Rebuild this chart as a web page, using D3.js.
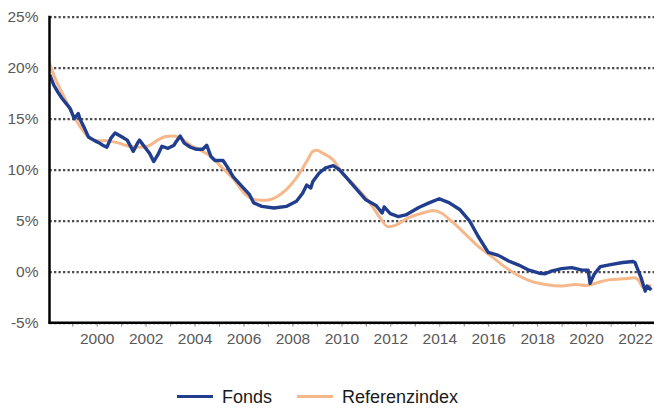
<!DOCTYPE html>
<html>
<head>
<meta charset="utf-8">
<script src="https://cdn.jsdelivr.net/npm/d3@7"></script>
<style>
  html, body { margin: 0; padding: 0; background: #fff; }
  svg text { font-family: "Liberation Sans", Arial, sans-serif; }
</style>
</head>
<body>
<div id="chart"></div>
<script>
// Fonds (navy), month resolution
const fondsDates = [
  "1998-02","1998-04","1998-06","1998-08","1998-10","1998-12",
  "1999-02","1999-04","1999-05","1999-07","1999-09","1999-12",
  "2000-02","2000-04","2000-06","2000-08","2000-10",
  "2001-01","2001-04","2001-07","2001-09","2001-10",
  "2002-01","2002-03","2002-05","2002-07","2002-09","2002-12",
  "2003-03","2003-04","2003-06","2003-08","2003-11",
  "2004-02","2004-05","2004-07","2004-09","2004-11",
  "2005-03","2005-05","2005-08",
  "2006-01","2006-04","2006-06","2006-10",
  "2007-04","2007-10",
  "2008-03","2008-06","2008-08","2008-10","2008-11",
  "2009-02","2009-05","2009-09","2009-12",
  "2010-03","2010-08",
  "2011-01","2011-06","2011-09","2011-10",
  "2012-01","2012-05","2012-09",
  "2013-03","2013-08",
  "2014-01","2014-06","2014-11",
  "2015-04","2015-08",
  "2016-01","2016-06","2016-11",
  "2017-04","2017-09",
  "2018-02","2018-05","2018-08",
  "2019-01","2019-06","2019-11",
  "2020-02","2020-03","2020-05","2020-08",
  "2021-01","2021-07","2021-12",
  "2022-01","2022-04","2022-06","2022-07","2022-09"
];
const fondsValues = [
  19.3, 18.3, 17.6, 17.0, 16.5, 16.0,
  15.0, 15.5, 14.9, 14.1, 13.2, 12.85,
  12.65, 12.4, 12.2, 13.1, 13.6,
  13.25, 12.9, 11.8, 12.6, 12.9,
  12.1, 11.6, 10.8, 11.45, 12.3, 12.1,
  12.4, 12.75, 13.3, 12.6, 12.2,
  12.0, 12.0, 12.4, 11.3, 10.9,
  10.9, 10.3, 9.3,
  8.2, 7.55, 6.75, 6.4,
  6.25, 6.4,
  6.9, 7.7, 8.5, 8.2, 8.85,
  9.65, 10.15, 10.4, 10.0,
  9.35, 8.2,
  7.05, 6.5, 5.75, 6.35,
  5.7, 5.4, 5.6,
  6.3, 6.75,
  7.15, 6.75, 6.1,
  4.95, 3.5,
  1.9, 1.6, 1.05,
  0.65, 0.15,
  -0.15, -0.2, 0.05,
  0.3, 0.4, 0.15,
  0.15, -1.15, -0.25, 0.5,
  0.7, 0.9, 1.0,
  0.9, -0.6, -1.9, -1.4, -1.8
];

// Referenzindex (orange)
const refDates = [
  "1998-01","1998-05","1998-09","1999-01","1999-05","1999-09",
  "2000-01","2000-06","2000-11","2001-04","2001-09",
  "2002-02","2002-07","2002-11","2003-03","2003-06","2003-11",
  "2004-04","2004-09","2005-01","2005-08",
  "2006-02","2006-07","2006-12","2007-05","2007-10",
  "2008-03","2008-08","2008-11","2009-01","2009-04","2009-09",
  "2010-01","2010-08","2011-03","2011-08","2011-12",
  "2012-04","2012-10","2013-05","2013-10",
  "2014-02","2014-07","2015-02","2015-08",
  "2016-03","2016-09","2017-04","2017-11",
  "2018-05","2019-01","2019-08","2020-01","2020-06","2020-12",
  "2021-07","2022-01","2022-03","2022-05","2022-09"
];
const refValues = [
  20.9, 18.8, 17.15, 15.5, 14.2, 13.2,
  12.85, 12.85, 12.65, 12.35, 12.2,
  12.3, 12.9, 13.25, 13.3, 13.1, 12.4,
  11.9, 11.3, 10.5, 9.1,
  7.55, 7.05, 7.0, 7.3, 8.05,
  9.2, 10.8, 11.8, 11.9, 11.6, 10.95,
  9.8, 8.35, 6.75, 5.3, 4.4,
  4.6, 5.3, 5.75, 6.0,
  5.75, 4.95, 3.65, 2.5,
  1.45, 0.5, -0.4, -1.0,
  -1.25, -1.4, -1.25, -1.35, -1.1, -0.8,
  -0.7, -0.6, -0.9, -1.55, -1.35
];

const yTicks = [-5, 0, 5, 10, 15, 20, 25];
const seriesNames = ["Fonds", "Referenzindex"];
const seriesColors = ["#213d8d", "#f6b88a"];

(function() {
  const W = 654, H = 408;
  const plotLeft = 49.5, plotRight = 654, plotTop = 16.7, plotBottom = 322.7;

  const parseMonth = d3.timeParse("%Y-%m");
  const fonds = fondsDates.map((d, i) => ({ date: parseMonth(d), value: fondsValues[i] }));
  const ref = refDates.map((d, i) => ({ date: parseMonth(d), value: refValues[i] }));

  const svg = d3.select("#chart").append("svg")
    .attr("width", W).attr("height", H);

  const x = d3.scaleTime()
    .domain([new Date(1998, 0, 27), new Date(2022, 9, 11)])
    .range([plotLeft, plotRight]);

  const y = d3.scaleLinear()
    .domain([-5, 25])
    .range([plotBottom, plotTop]);

  // dotted gridlines + y labels
  const yAxis = svg.append("g")
    .attr("transform", `translate(${plotLeft},0)`)
    .call(d3.axisLeft(y).tickValues(yTicks)
      .tickSize(-(plotRight - plotLeft)).tickPadding(11)
      .tickFormat(d => d + "%"));
  yAxis.select(".domain").remove();
  yAxis.selectAll(".tick line")
    .attr("stroke", "#4d4d4d")
    .attr("stroke-width", 2.3)
    .attr("stroke-dasharray", "2.3,2.2");
  yAxis.selectAll(".tick text")
    .attr("fill", "#595959")
    .style("font-size", "15.5px");

  // x axis: yearly ticks, labels every two years
  const years = d3.timeYear.range(new Date(1999, 0, 1), new Date(2023, 0, 1));
  const xAxis = svg.append("g")
    .attr("transform", `translate(0,${plotBottom})`)
    .call(d3.axisBottom(x).tickValues(years).tickSize(4).tickPadding(6)
      .tickFormat(d => d.getFullYear() % 2 === 0 ? d3.timeFormat("%Y")(d) : ""));
  xAxis.select(".domain").remove();
  xAxis.selectAll(".tick line").attr("stroke", "#8c8c8c").attr("stroke-width", 1);
  xAxis.selectAll(".tick text")
    .attr("fill", "#595959")
    .style("font-size", "15.5px");

  // lines
  svg.append("clipPath").attr("id", "plot")
    .append("rect").attr("x", plotLeft).attr("y", 0)
    .attr("width", plotRight - plotLeft).attr("height", plotBottom);

  const refLine = d3.line().x(d => x(d.date)).y(d => y(d.value)).curve(d3.curveMonotoneX);
  const fondsLine = d3.line().x(d => x(d.date)).y(d => y(d.value));

  const lines = svg.append("g").attr("clip-path", "url(#plot)");
  lines.append("path").datum(ref)
    .attr("fill", "none").attr("stroke", seriesColors[1])
    .attr("stroke-width", 3).attr("stroke-linejoin", "round")
    .attr("d", refLine);
  lines.append("path").datum(fonds)
    .attr("fill", "none").attr("stroke", seriesColors[0])
    .attr("stroke-width", 3.4).attr("stroke-linejoin", "round")
    .attr("d", fondsLine);

  // axis lines
  svg.append("line")
    .attr("x1", plotLeft).attr("x2", plotLeft).attr("y1", plotTop - 1).attr("y2", plotBottom + 1)
    .attr("stroke", "#000").attr("stroke-width", 2.5);
  svg.append("line")
    .attr("x1", plotLeft - 1).attr("x2", plotRight).attr("y1", plotBottom).attr("y2", plotBottom)
    .attr("stroke", "#000").attr("stroke-width", 2.5);

  // legend
  const legendX = [177, 297];
  const legend = svg.append("g");
  seriesNames.forEach((name, i) => {
    legend.append("line")
      .attr("x1", legendX[i]).attr("x2", legendX[i] + 36)
      .attr("y1", 396.5).attr("y2", 396.5)
      .attr("stroke", seriesColors[i]).attr("stroke-width", 3);
    legend.append("text")
      .attr("x", legendX[i] + 45).attr("y", 403)
      .attr("fill", "#1a1a1a")
      .style("font-size", "18px")
      .text(name);
  });
})();
</script>
</body>
</html>
